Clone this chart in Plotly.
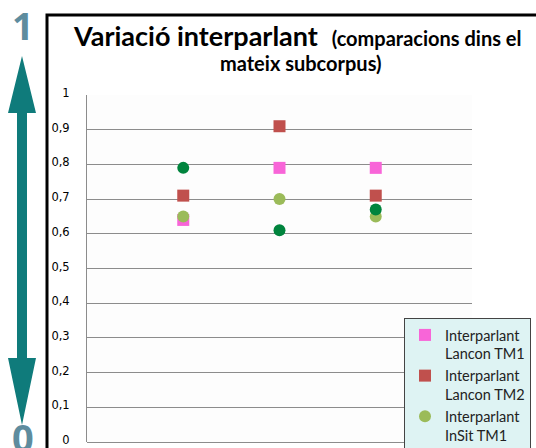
import plotly.graph_objects as go

# ---- data ----
categories = [1, 2, 3]
series_names = ["Interparlant<br>Lancon TM1", "Interparlant<br>Lancon TM2", "Interparlant<br>InSit TM1", "Interparlant<br>InSit TM2"]
lancon_tm1 = [0.64, 0.79, 0.79]
lancon_tm2 = [0.71, 0.91, 0.71]
insit_tm1 = [0.65, 0.70, 0.65]
insit_tm2 = [0.79, 0.61, 0.67]
y_tickvals = [0, 0.1, 0.2, 0.3, 0.4, 0.5, 0.6, 0.7, 0.8, 0.9, 1]
y_ticktext = ["0", "0,1", "0,2", "0,3", "0,4", "0,5", "0,6", "0,7", "0,8", "0,9", "1"]

W, H = 536, 448
L, R, T, B = 87, 472, 95, 442

def px(x):
    return (x - L) / (R - L)

def py(y):
    return (B - y) / (B - T)

fig = go.Figure()
styles = [
    (lancon_tm1, "square", "#f865d8", True),
    (lancon_tm2, "square", "#c0504d", True),
    (insit_tm1, "circle", "#9bbb59", True),
    (insit_tm2, "circle", "#00843d", False),
]
for (vals, sym, col, show), name in zip(styles, series_names):
    fig.add_trace(go.Scatter(
        x=categories, y=vals, mode="markers", name=name, showlegend=show,
        marker=dict(symbol=sym, size=12, color=col, line=dict(width=0)),
    ))

# decorative shapes: black frame and double arrow
shapes = [
    dict(type="rect", xref="paper", yref="paper",
         x0=px(47), x1=px(560), y0=py(15), y1=py(470),
         line=dict(color="black", width=3), fillcolor="rgba(0,0,0,0)", layer="below"),
]
ax = [8, 17, 27, 36]
ay = [56, 113, 358, 425]
pts = [(22, ay[0]), (ax[3], ay[1]), (ax[2], ay[1]), (ax[2], ay[2]), (ax[3], ay[2]),
       (22, ay[3]), (ax[0], ay[2]), (ax[1], ay[2]), (ax[1], ay[1]), (ax[0], ay[1])]
path = "M " + " L ".join(f"{px(a):.5f},{py(b):.5f}" for a, b in pts) + " Z"
shapes.append(dict(type="path", xref="paper", yref="paper", path=path,
                   fillcolor="#0f7b7b", line=dict(width=0)))

annotations = [
    dict(text="<b>1</b>", x=px(23), y=py(25), xref="paper", yref="paper",
         showarrow=False, font=dict(family="Open Sans", size=38, color="#5e8c9e"),
         xanchor="center", yanchor="middle"),
    dict(text="<b>0</b>", x=px(23), y=py(437), xref="paper", yref="paper",
         showarrow=False, font=dict(family="Open Sans", size=38, color="#5e8c9e"),
         xanchor="center", yanchor="middle"),
    dict(text="<b>Variació interparlant</b>  <b><span style='font-size:20px'>(comparacions dins el</span></b>",
         x=px(297), y=py(35), xref="paper", yref="paper", showarrow=False,
         font=dict(family="Lato", size=27, color="black"), xanchor="center", yanchor="middle"),
    dict(text="<b>mateix subcorpus)</b>",
         x=px(301), y=py(63), xref="paper", yref="paper", showarrow=False,
         font=dict(family="Lato", size=20, color="black"), xanchor="center", yanchor="middle"),
]

fig.update_layout(
    width=W, height=H,
    margin=dict(l=L, r=W - R, t=T, b=H - B, pad=0, autoexpand=False),
    paper_bgcolor="white", plot_bgcolor="#fdfdfd",
    shapes=shapes, annotations=annotations,
    xaxis=dict(range=[0, 4], showgrid=False, zeroline=False, showticklabels=False,
               showline=False, ticks="", automargin=False),
    yaxis=dict(range=[0, 1], tickvals=y_tickvals, ticktext=y_ticktext,
               showgrid=True, gridcolor="#8c8c8c", gridwidth=1,
               zeroline=True, zerolinecolor="#8c8c8c", zerolinewidth=1,
               showline=True, linecolor="#8c8c8c", linewidth=1,
               ticks="", ticklabelstandoff=14, ticklabelshift=-2, automargin=False,
               tickfont=dict(family="DejaVu Sans", size=11.5, color="#000")),
    legend=dict(x=px(404), y=py(318), xanchor="left", yanchor="top",
                bgcolor="#def3f3", bordercolor="#444", borderwidth=1,
                font=dict(family="Lato", size=14.5, color="#222"),
                itemwidth=30, valign="top", tracegroupgap=0),
    showlegend=True,
)

fig.write_html("out.html", config={"displayModeBar": False},
               post_script="document.body.style.margin='0';document.body.style.overflow='hidden';")
